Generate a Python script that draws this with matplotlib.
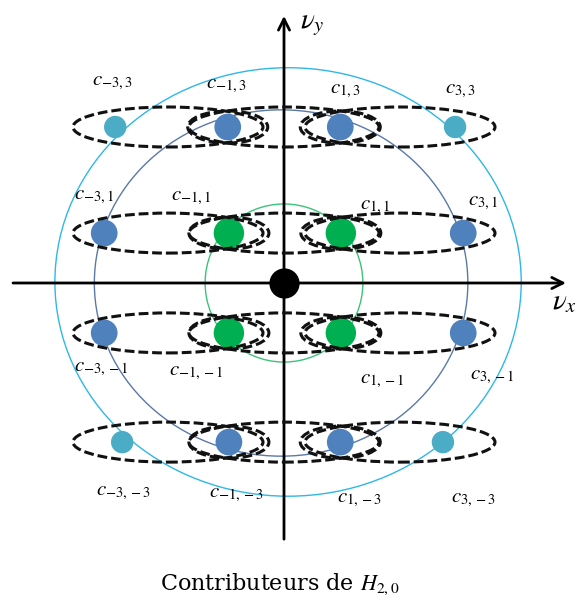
import matplotlib
matplotlib.use("Agg")
import matplotlib.pyplot as plt
from matplotlib.patches import Ellipse

plt.rcParams['mathtext.fontset'] = 'stix'

# grid indices of the contributors
kx = [-3, -1, 1, 3]
ky = [3, 1, -1, -3]

# dot positions (nu units), one list per row
dot_x = {3: [-2.91, -0.97, 0.97, 2.95],
         1: [-3.10, -0.95, 0.98, 3.09],
         -1: [-3.10, -0.95, 0.98, 3.09],
         -3: [-2.79, -0.95, 0.97, 2.74]}
dot_y = {3: 3.0, 1: 0.96, -1: -0.96, -3: -3.06}

# dot colour class per row: c = outer (cyan), b = blue, g = green
dot_kind = {3: ['c', 'b', 'b', 'c'],
            1: ['b', 'g', 'g', 'b'],
            -1: ['b', 'g', 'g', 'b'],
            -3: ['c', 'b', 'b', 'c']}

# label positions (left, centre)
lab_x = {3: [-3.31, -1.35, 0.79, 2.77],
         1: [-3.62, -1.95, 1.31, 3.17],
         -1: [-3.62, -1.99, 1.31, 3.21],
         -3: [-3.24, -1.30, 0.91, 2.88]}
lab_y = {3: [3.87, 3.81, 3.71, 3.71],
         1: [1.67, 1.65, 1.48, 1.56],
         -1: [-1.63, -1.71, -1.87, -1.79],
         -3: [-4.02, -4.06, -4.15, -4.15]}

# circles: (cx, cy, rx, ry)
circ_green = (0.0, 0.0, 1.36, 1.52)
circ_blue = (-0.05, 0.0, 3.22, 3.33)
circ_cyan = (0.07, 0.02, 4.02, 4.12)

cols = {'c': '#4BACC6', 'b': '#4F81BD', 'g': '#00B050'}
sizes = {'c': 260, 'b': 370, 'g': 480}

fig = plt.figure(figsize=(5.76, 6.03), dpi=100)
ax = fig.add_axes([0, 0, 1, 1])
ax.set_xlim(-284 / 58, 292 / 58)
ax.set_ylim(-(603 - 283) / 52, 283 / 52)
ax.axis('off')

for (cx, cy, rx, ry), c in [(circ_green, '#3CC27A'), (circ_blue, '#5A78A8'),
                             (circ_cyan, '#2EB7EA')]:
    ax.add_patch(Ellipse((cx, cy), 2 * rx, 2 * ry, fill=False, ec=c, lw=1.0, zorder=1))

# axes with arrows
ax.annotate('', xy=(0, 5.19), xytext=(0, -4.98),
            arrowprops=dict(arrowstyle='->', lw=2.0, color='black', mutation_scale=20))
ax.annotate('', xy=(4.91, 0), xytext=(-4.72, 0),
            arrowprops=dict(arrowstyle='->', lw=2.0, color='black', mutation_scale=20))
ax.text(0.28, 4.99, r'$\nu_y$', fontsize=21, ha='left', va='center')
ax.text(4.62, -0.35, r'$\nu_x$', fontsize=21, ha='left', va='center')

dash = (0, (3.2, 1.3))
for j in ky:
    xs = dot_x[j]
    y = dot_y[j]
    for i, k in enumerate(dot_kind[j]):
        ax.scatter(xs[i], y, s=sizes[k], color=cols[k], edgecolors='none', zorder=3)
        ax.text(lab_x[j][i], lab_y[j][i], r'$c_{%d,%d}$' % (kx[i], j),
                fontsize=15, ha='left', va='center', zorder=5)
    # wide ellipses between adjacent contributors
    for m in [-2, 0, 2]:
        ax.add_patch(Ellipse((m * 1.0, y), 190 / 58, 40 / 52, fill=False, ec='#111111',
                             lw=2.2, ls=dash, zorder=4))
    # small ellipses around inner contributors
    for xi in xs[1:3]:
        ax.add_patch(Ellipse((xi, y), 80 / 58, 32 / 52, fill=False, ec='#111111',
                             lw=2.2, ls=dash, zorder=4))

ax.scatter(0, 0, s=430, color='black', zorder=6)

ax.text(-0.07, -5.79, r'Contributeurs de $H_{2,0}$', fontsize=16,
        family='DejaVu Serif', ha='center', va='center')

fig.savefig('out.png', dpi=100)
